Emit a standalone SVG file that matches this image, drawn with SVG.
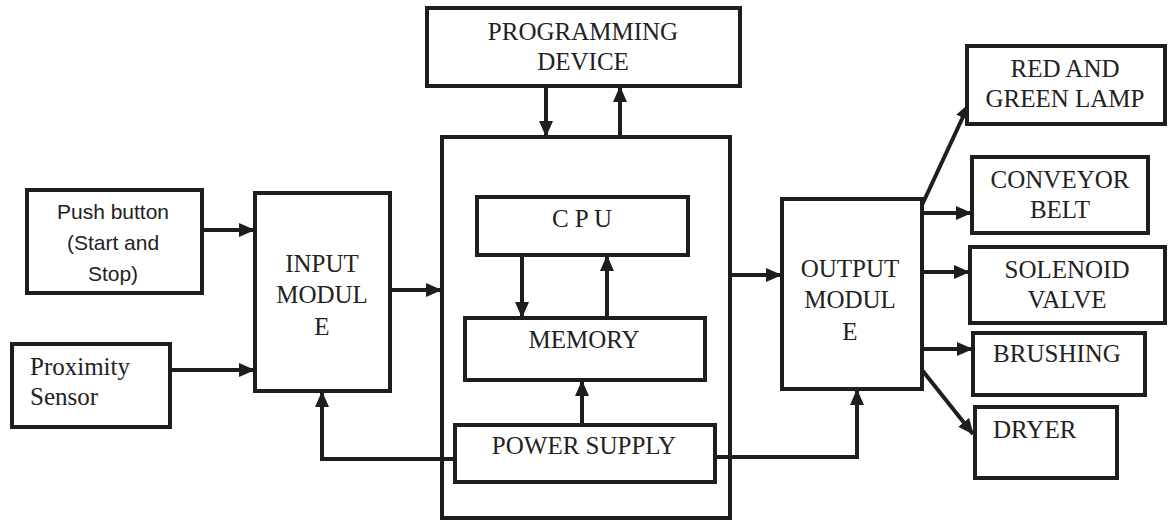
<svg xmlns="http://www.w3.org/2000/svg" width="1168" height="522" viewBox="0 0 1168 522">
<style>
.box{fill:#fff;stroke:#1e1e1e;stroke-width:4}
.c{fill:none;stroke:#1e1e1e;stroke-width:4}
</style>
<defs>
<marker id="ah" markerUnits="userSpaceOnUse" markerWidth="16" markerHeight="14" refX="15" refY="7" orient="auto">
<path d="M0,0 L16,7 L0,14 Z" fill="#1e1e1e"/>
</marker>
</defs>
<rect width="1168" height="522" fill="#fff"/>

<g id="main">
<rect class="box" x="442" y="137" width="288" height="381"/>
</g>

<g id="connectors">
<path class="c" d="M546,86 V136" marker-end="url(#ah)"/>
<path class="c" d="M620,137 V87" marker-end="url(#ah)"/>
<path class="c" d="M522,255 V317" marker-end="url(#ah)"/>
<path class="c" d="M607,318 V256" marker-end="url(#ah)"/>
<path class="c" d="M582,425 V381" marker-end="url(#ah)"/>
<path class="c" d="M202,230 H254" marker-end="url(#ah)"/>
<path class="c" d="M170,370 H254" marker-end="url(#ah)"/>
<path class="c" d="M390,290 H441" marker-end="url(#ah)"/>
<path class="c" d="M730,275 H781" marker-end="url(#ah)"/>
<path class="c" d="M455,459 H322 V392" marker-end="url(#ah)"/>
<path class="c" d="M715,457 H857 V390" marker-end="url(#ah)"/>
<path class="c" d="M922,205 L969,104" marker-end="url(#ah)"/>
<path class="c" d="M922,213 H971" marker-end="url(#ah)"/>
<path class="c" d="M922,272 H969" marker-end="url(#ah)"/>
<path class="c" d="M922,349 H972" marker-end="url(#ah)"/>
<path class="c" d="M922,370 L973,434" marker-end="url(#ah)"/>
</g>

<g font-family="'Liberation Serif', 'Times New Roman', Times, serif" font-size="25" fill="#222" text-anchor="middle">
<g id="programming">
<rect class="box" x="427" y="8" width="313" height="78"/>
<text x="583" y="40">PROGRAMMING</text>
<text x="583" y="70">DEVICE</text>
</g>

<g id="cpu">
<rect class="box" x="477" y="197" width="211" height="58"/>
<text x="582" y="227">C P U</text>
</g>

<g id="memory">
<rect class="box" x="465" y="318" width="240" height="62"/>
<text x="584" y="348">MEMORY</text>
</g>

<g id="power">
<rect class="box" x="455" y="425" width="260" height="57"/>
<text x="584" y="454">POWER SUPPLY</text>
</g>

<g id="pushbutton">
<rect class="box" x="27" y="190" width="175" height="103"/>
<g font-family="'Liberation Sans', Arial, sans-serif" font-size="21">
<text x="113" y="219">Push button</text>
<text x="113" y="250">(Start and</text>
<text x="113" y="281">Stop)</text>
</g>
</g>

<g id="proximity">
<rect class="box" x="12" y="344" width="158" height="83"/>
<text text-anchor="start" x="30" y="375">Proximity</text>
<text text-anchor="start" x="30" y="405">Sensor</text>
</g>

<g id="input">
<rect class="box" x="255" y="193" width="135" height="198"/>
<text x="322" y="272">INPUT</text>
<text x="322" y="303">MODUL</text>
<text x="322" y="335">E</text>
</g>

<g id="output">
<rect class="box" x="782" y="199" width="140" height="190"/>
<text x="850" y="277">OUTPUT</text>
<text x="850" y="308">MODUL</text>
<text x="850" y="340">E</text>
</g>

<g id="lamp">
<rect class="box" x="967" y="46" width="198" height="78"/>
<text x="1065" y="77">RED AND</text>
<text x="1065" y="107">GREEN LAMP</text>
</g>

<g id="conveyor">
<rect class="box" x="972" y="157" width="176" height="76"/>
<text x="1060" y="188">CONVEYOR</text>
<text x="1060" y="218">BELT</text>
</g>

<g id="solenoid">
<rect class="box" x="970" y="247" width="195" height="76"/>
<text x="1067" y="278">SOLENOID</text>
<text x="1067" y="308">VALVE</text>
</g>

<g id="brushing">
<rect class="box" x="973" y="333" width="172" height="62"/>
<text x="1057" y="362">BRUSHING</text>
</g>

<g id="dryer">
<rect class="box" x="975" y="407" width="142" height="71"/>
<text text-anchor="start" x="993" y="438">DRYER</text>
</g>
</g>
</svg>
